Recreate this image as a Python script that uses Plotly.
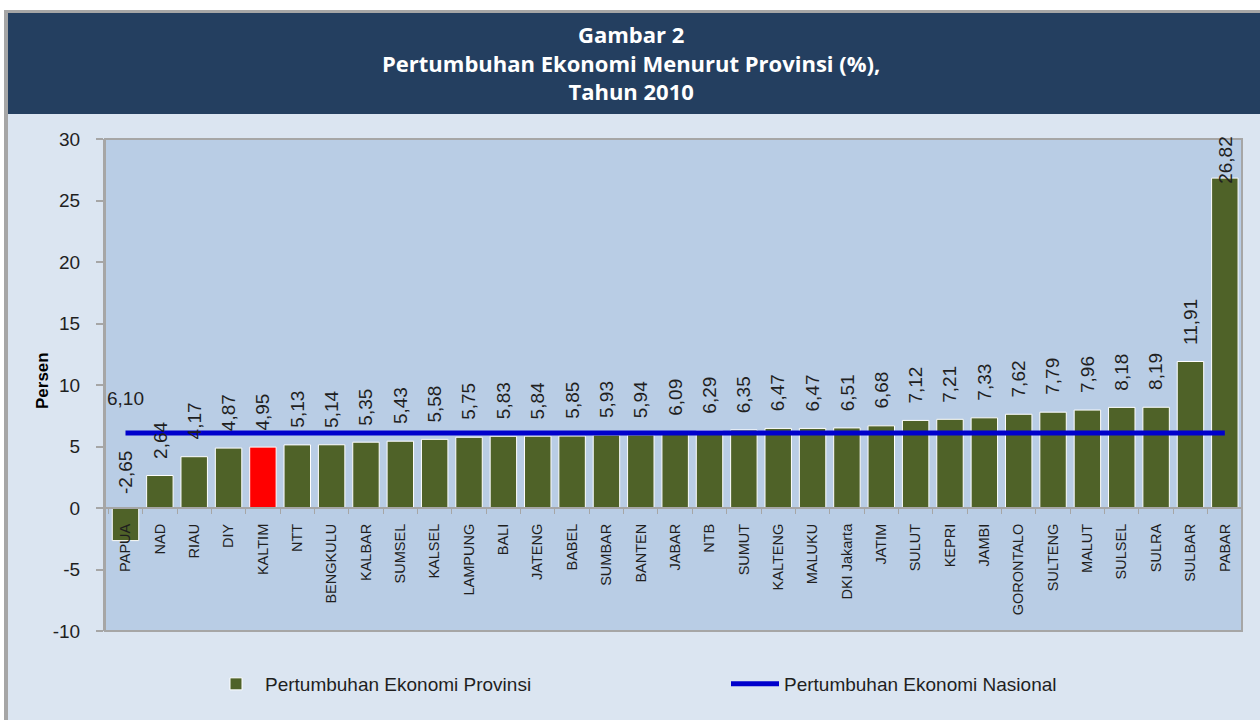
import plotly.graph_objects as go

provinces = ["PAPUA", "NAD", "RIAU", "DIY", "KALTIM", "NTT", "BENGKULU", "KALBAR", "SUMSEL",
             "KALSEL", "LAMPUNG", "BALI", "JATENG", "BABEL", "SUMBAR", "BANTEN", "JABAR", "NTB",
             "SUMUT", "KALTENG", "MALUKU", "DKI Jakarta", "JATIM", "SULUT", "KEPRI", "JAMBI",
             "GORONTALO", "SULTENG", "MALUT", "SULSEL", "SULRA", "SULBAR", "PABAR"]
growth_prov = [-2.65, 2.64, 4.17, 4.87, 4.95, 5.13, 5.14, 5.35, 5.43, 5.58, 5.75, 5.83, 5.84,
               5.85, 5.93, 5.94, 6.09, 6.29, 6.35, 6.47, 6.47, 6.51, 6.68, 7.12, 7.21, 7.33,
               7.62, 7.79, 7.96, 8.18, 8.19, 11.91, 26.82]
growth_nasional = 6.10
highlight = "KALTIM"
y_ticks = [-10, -5, 0, 5, 10, 15, 20, 25, 30]
y_tick_text = ["-10", "-5", "0", "5", "10", "15", "20", "25", "30"]
title_lines = ["Gambar 2", "Pertumbuhan Ekonomi Menurut Provinsi (%),", "Tahun 2010"]

W, H = 1260, 720
ML, MR, MT, MB = 105, 18, 139, 89
PW, PH = W - ML - MR, H - MT - MB
YMIN, YMAX = -10, 30


def px_x(p):
    return (p - ML) / PW


def px_y(p):
    return (H - MB - p) / PH


def fmt(v):
    return f"{v:.2f}".replace(".", ",")


OLIVE = "#4F6228"
NAVY = "#243F60"
GRAY = "#A6A6A6"
TXT = "#1F1F1F"

colors = ["#FF0000" if p == highlight else OLIVE for p in provinces]

fig = go.Figure()
fig.add_trace(go.Bar(
    x=provinces, y=growth_prov, name="Pertumbuhan Ekonomi Provinsi",
    marker=dict(color=colors, line=dict(color="white", width=1)),
    hoverinfo="x+y",
))
fig.add_trace(go.Scatter(
    x=provinces, y=[growth_nasional] * len(provinces), mode="lines",
    name="Pertumbuhan Ekonomi Nasional",
    line=dict(color="#0000CC", width=5),
))

annotations = []
px_per_unit = PH / (YMAX - YMIN)
for p, v in zip(provinces, growth_prov):
    label_h = (len(fmt(v)) * 0.5 * 19 + 16) / px_per_unit
    if v < 0:
        annotations.append(dict(x=p, y=0, text=fmt(v), textangle=-90, showarrow=False,
                                yanchor="bottom", yshift=12, font=dict(size=19, color=TXT)))
    elif v + label_h > YMAX:
        annotations.append(dict(x=p, y=YMAX, text=fmt(v), textangle=-90, showarrow=False,
                                yanchor="top", yshift=5, font=dict(size=19, color=TXT)))
    else:
        annotations.append(dict(x=p, y=v, text=fmt(v), textangle=-90, showarrow=False,
                                yanchor="bottom", yshift=15, font=dict(size=19, color=TXT)))

annotations.append(dict(x=provinces[0], y=growth_nasional, text=fmt(growth_nasional),
                        showarrow=False, yanchor="bottom", yshift=22,
                        font=dict(size=19, color=TXT)))

# title (single multi-line text block)
annotations.append(dict(xref="paper", yref="paper", x=px_x(631), y=px_y(63),
                        xanchor="center", yanchor="middle", showarrow=False, align="center",
                        text="<b>" + "<br>".join(title_lines) + "</b>",
                        font=dict(family="Open Sans, DejaVu Sans, sans-serif",
                                  size=22, color="white")))

# y axis title
annotations.append(dict(xref="paper", yref="paper", x=px_x(42), y=px_y(381),
                        xanchor="center", yanchor="middle", showarrow=False, textangle=-90,
                        text="<b>Persen</b>", font=dict(size=17, color="black")))

shapes = [
    dict(type="rect", xref="paper", yref="paper", x0=px_x(-5), x1=px_x(W + 5), y0=px_y(-5), y1=px_y(10),
         fillcolor="white", line=dict(width=0), layer="below"),
    dict(type="rect", xref="paper", yref="paper", x0=px_x(-5), x1=px_x(4), y0=px_y(-5), y1=px_y(H + 5),
         fillcolor="white", line=dict(width=0), layer="below"),
    dict(type="rect", xref="paper", yref="paper", x0=px_x(4), x1=px_x(W + 5), y0=px_y(10), y1=px_y(13),
         fillcolor=GRAY, line=dict(width=0), layer="below"),
    dict(type="rect", xref="paper", yref="paper", x0=px_x(4), x1=px_x(8), y0=px_y(10), y1=px_y(H + 5),
         fillcolor=GRAY, line=dict(width=0), layer="below"),
    dict(type="rect", xref="paper", yref="paper", x0=px_x(8), x1=px_x(W + 5), y0=px_y(13), y1=px_y(114),
         fillcolor=NAVY, line=dict(width=0), layer="below"),
    dict(type="rect", xref="x domain", yref="y domain", x0=0, x1=1, y0=0, y1=1,
         line=dict(color=GRAY, width=2), layer="above"),
]

fig.update_layout(
    width=W, height=H,
    margin=dict(l=ML, r=MR, t=MT, b=MB, pad=0),
    paper_bgcolor="#DBE5F1",
    plot_bgcolor="#B9CDE5",
    font=dict(family="Liberation Sans, Arial, sans-serif", size=19, color=TXT),
    bargap=0.23,
    showlegend=True,
    legend=dict(
        orientation="h", x=px_x(207), xanchor="left", y=px_y(684), yanchor="middle",
        bgcolor="rgba(0,0,0,0)", font=dict(size=19, color=TXT),
        entrywidth=456, entrywidthmode="pixels", itemwidth=48,
    ),
    xaxis=dict(
        type="category", anchor="free", position=(0 - YMIN) / (YMAX - YMIN),
        showline=True, linecolor=GRAY, linewidth=2,
        ticks="outside", tickson="boundaries", ticklen=5, tickcolor=GRAY, tickwidth=1,
        tickangle=-90, tickfont=dict(size=14.5, color=TXT), showgrid=False,
        ticklabelstandoff=9,
    ),
    yaxis=dict(
        range=[YMIN, YMAX], tickvals=y_ticks, ticktext=y_tick_text, ticks="outside", ticklen=7,
        tickcolor=GRAY, tickwidth=2, showline=True, linecolor=GRAY, linewidth=2,
        showgrid=False, zeroline=False, tickfont=dict(size=19, color=TXT),
        ticklabelstandoff=12,
    ),
    shapes=shapes,
    annotations=annotations,
)

fig.write_html("out.html", config={"displayModeBar": False},
               post_script="document.body.style.margin='0';")
